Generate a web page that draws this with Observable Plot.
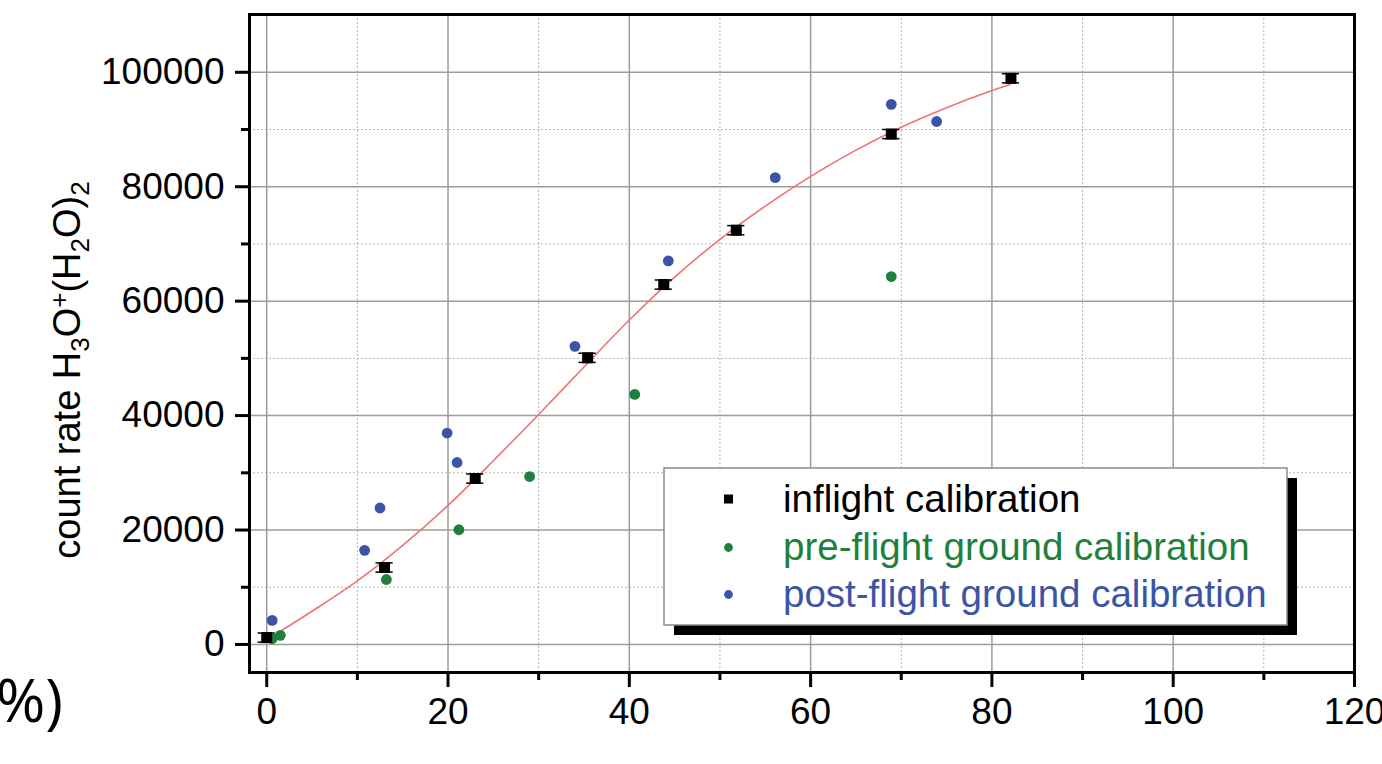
<!DOCTYPE html>
<html>
<head>
<meta charset="utf-8">
<script src="https://cdn.jsdelivr.net/npm/d3@7"></script>
<script src="https://cdn.jsdelivr.net/npm/@observablehq/plot@0.6"></script>
<style>
  html, body { margin: 0; padding: 0; background: white; }
  #chart { width: 1382px; height: 764px; overflow: hidden; }
</style>
</head>
<body>
<div id="chart"></div>
<script>
// ---- data ----
const inflightX = [0.0, 13.0, 23.0, 35.4, 43.8, 51.8, 68.9, 82.1];
const inflightY = [1200, 13450, 29000, 50100, 62900, 72400, 89200, 98950];
const inflightErr = [800, 800, 800, 800, 800, 800, 800, 800];

const preX = [0.6, 1.5, 13.2, 21.2, 29.0, 40.6, 68.9];
const preY = [1000, 1600, 11350, 20050, 29350, 43700, 64300];

const postX = [0.6, 10.8, 12.5, 19.9, 21.0, 34.0, 44.3, 56.1, 68.9, 73.9];
const postY = [4200, 16450, 23850, 36950, 31800, 52100, 67050, 81600, 94400, 91400];

// fitted curve
const fitX = [1, 5, 10, 15, 20, 25, 30, 35, 40, 45, 50, 55, 60, 65, 70, 75, 80, 82];
const fitY = [1800, 5800, 11100, 17300, 24300, 32100, 40200, 48500, 56700, 64200, 70800, 76600, 81800, 86400, 90400, 93800, 96800, 97850];

const xMajor = [0, 20, 40, 60, 80, 100, 120];
const xMinor = [10, 30, 50, 70, 90, 110];
const yMajor = [0, 20000, 40000, 60000, 80000, 100000];
const yMinor = [10000, 30000, 50000, 70000, 90000];

const seriesNames = ["inflight calibration", "pre-flight ground calibration", "post-flight ground calibration"];
const seriesColors = ["#000000", "#1f7f3c", "#3b54a5"];

// ---- tables ----
const inflight = inflightX.map((x, i) => ({x, y: inflightY[i], e: inflightErr[i]}));
const pre = preX.map((x, i) => ({x, y: preY[i]}));
const post = postX.map((x, i) => ({x, y: postY[i]}));
const fit = fitX.map((x, i) => ({x, y: fitY[i]}));

const font = "'Liberation Sans', Arial, Helvetica, sans-serif";

const svg = Plot.plot({
  width: 1382,
  height: 764,
  marginLeft: 249,
  marginRight: 28,
  marginTop: 14,
  marginBottom: 92,
  style: {fontFamily: font, fontSize: "37px", background: "white", color: "black", overflow: "hidden"},
  x: {domain: [-1.9, 120]},
  y: {domain: [-4900, 110100]},
  marks: [
    Plot.gridX(xMinor, {stroke: "#b4b4b4", strokeOpacity: 1, strokeWidth: 1, strokeDasharray: "2,2"}),
    Plot.gridY(yMinor, {stroke: "#b4b4b4", strokeOpacity: 1, strokeWidth: 1, strokeDasharray: "2,2"}),
    Plot.gridX(xMajor, {stroke: "#9c9c9c", strokeOpacity: 1, strokeWidth: 1.5}),
    Plot.gridY(yMajor, {stroke: "#9c9c9c", strokeOpacity: 1, strokeWidth: 1.5}),
    Plot.axisX({ticks: xMajor, tickSize: 15, tickPadding: 10, strokeWidth: 3, fontSize: 37, label: null, tickFormat: d => String(d)}),
    Plot.axisX({ticks: xMinor, tickSize: 8, strokeWidth: 3, label: null, tickFormat: () => ""}),
    Plot.axisY({ticks: yMajor, tickSize: 14, tickPadding: 11, strokeWidth: 3, fontSize: 37, label: null, tickFormat: d => String(d)}),
    Plot.axisY({ticks: yMinor, tickSize: 8, strokeWidth: 3, label: null, tickFormat: () => ""}),
    Plot.line(fit, {x: "x", y: "y", curve: "catmull-rom", stroke: "#f07272", strokeWidth: 1.6}),
    Plot.ruleY(inflight, {y: d => d.y + d.e, x1: d => d.x - 0.95, x2: d => d.x + 0.95, stroke: "black", strokeWidth: 1.5}),
    Plot.ruleY(inflight, {y: d => d.y - d.e, x1: d => d.x - 0.95, x2: d => d.x + 0.95, stroke: "black", strokeWidth: 1.5}),
    Plot.dot(pre, {x: "x", y: "y", r: 5.4, fill: seriesColors[1], stroke: "none"}),
    Plot.dot(post, {x: "x", y: "y", r: 5.4, fill: seriesColors[2], stroke: "none"}),
    Plot.dot(inflight, {x: "x", y: "y", r: 6.2, symbol: "square", fill: "black", stroke: "none"}),
    Plot.frame({stroke: "black", strokeWidth: 3})
  ]
});

const s = d3.select(svg);

// y-axis title with sub/superscripts
const yl = s.append("text")
  .attr("transform", "translate(80,370) rotate(-90)")
  .attr("text-anchor", "middle")
  .style("font-family", font)
  .style("font-size", "38px")
  .attr("fill", "black");
yl.append("tspan").text("count rate H");
yl.append("tspan").attr("baseline-shift", "-35%").attr("font-size", "26px").text("3");
yl.append("tspan").text("O");
yl.append("tspan").attr("baseline-shift", "45%").attr("font-size", "26px").text("+");
yl.append("tspan").text("(H");
yl.append("tspan").attr("baseline-shift", "-35%").attr("font-size", "26px").text("2");
yl.append("tspan").text("O)");
yl.append("tspan").attr("baseline-shift", "-35%").attr("font-size", "26px").text("2");

// fragment of neighbouring panel label at the left edge
s.append("text")
  .attr("x", 63).attr("y", 722)
  .attr("text-anchor", "end")
  .style("font-family", "'Open Sans', 'DejaVu Sans', sans-serif")
  .style("font-size", "60px")
  .attr("fill", "black")
  .text("%)");

// legend box with shadow
const lg = s.append("g").attr("text-anchor", "start");
lg.append("rect").attr("x", 674).attr("y", 478).attr("width", 623).attr("height", 157).attr("fill", "black");
lg.append("rect").attr("x", 664).attr("y", 468).attr("width", 623).attr("height", 157)
  .attr("fill", "white").attr("stroke", "#8a8a8a").attr("stroke-width", 1.5);
const rowsY = [512, 560, 607];
const symY = [499, 547.5, 594.5];
lg.append("rect").attr("x", 724).attr("y", symY[0] - 4.5).attr("width", 9).attr("height", 9).attr("fill", seriesColors[0]);
lg.append("circle").attr("cx", 728.5).attr("cy", symY[1]).attr("r", 4.4).attr("fill", seriesColors[1]);
lg.append("circle").attr("cx", 728.5).attr("cy", symY[2]).attr("r", 4.4).attr("fill", seriesColors[2]);
seriesNames.forEach((n, i) => {
  lg.append("text")
    .attr("x", 783).attr("y", rowsY[i])
    .attr("text-anchor", "start")
    .style("font-family", font)
    .style("font-size", "38.5px")
    .attr("fill", seriesColors[i])
    .text(n);
});

document.getElementById("chart").appendChild(svg);
</script>
</body>
</html>
